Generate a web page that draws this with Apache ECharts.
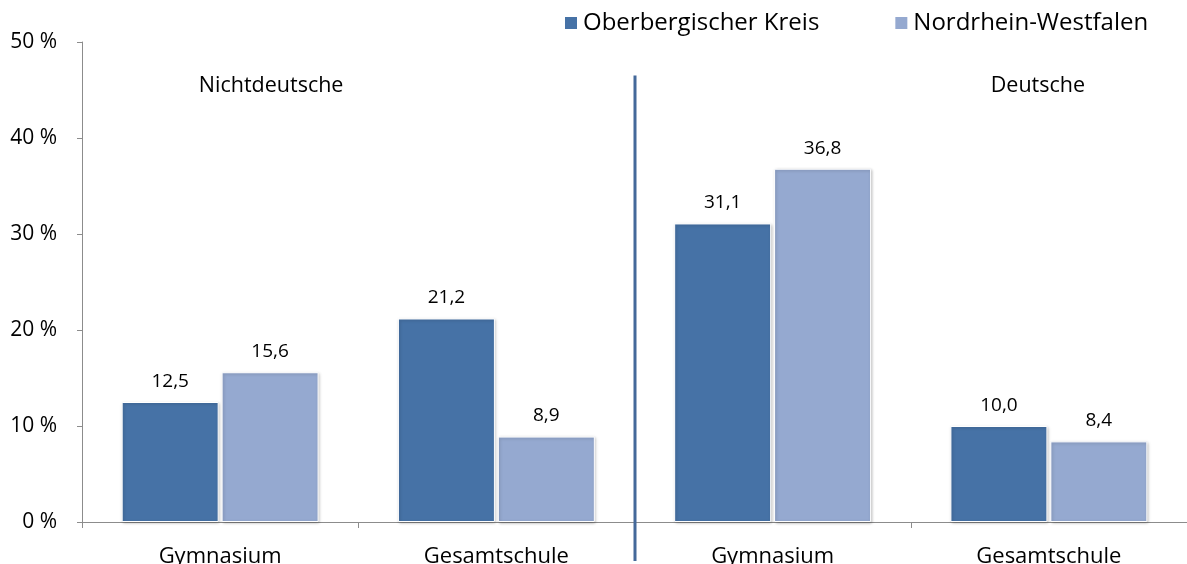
<!DOCTYPE html>
<html>
<head>
<meta charset="utf-8">
<script src="https://cdn.jsdelivr.net/npm/echarts@6/dist/echarts.min.js"></script>
<style>
html,body{margin:0;padding:0;background:#fff;}
#chart{width:1187px;height:564px;}
</style>
</head>
<body>
<div id="chart"></div>
<script>
const categories = ['Gymnasium', 'Gesamtschule', 'Gymnasium', 'Gesamtschule'];
const seriesNames = ['Oberbergischer Kreis', 'Nordrhein-Westfalen'];
const oberbergValues = [12.5, 21.2, 31.1, 10.0];
const nrwValues = [15.6, 8.9, 36.8, 8.4];
const groupLabels = ['Nichtdeutsche', 'Deutsche'];
const yTicks = { min: 0, max: 50, interval: 10 };

const FONT = '"Open Sans", sans-serif';
const chart = echarts.init(document.getElementById('chart'));

function fmt(v) { return v.toFixed(1).replace('.', ','); }

const barCommon = {
  type: 'bar',
  barWidth: 97,
  barGap: '3%',
  label: {
    show: true,
    position: 'top',
    distance: 11,
    color: '#000',
    fontFamily: FONT,
    fontSize: 19,
    formatter: p => fmt(p.value)
  }
};

chart.setOption({
  animation: false,
  textStyle: { fontFamily: FONT },
  grid: { left: 82, right: 0, top: 42, bottom: 42, containLabel: false, outerBoundsMode: 'none' },
  legend: {
    left: 558, top: 6,
    icon: 'rect', itemWidth: 14, itemHeight: 14, itemGap: 74, itemTextGap: 6,
    textStyle: { fontSize: 24, color: '#000', fontFamily: FONT },
    data: seriesNames
  },
  xAxis: {
    type: 'category',
    data: categories,
    axisLine: { lineStyle: { color: '#8c8c8c', width: 1 } },
    axisTick: { show: true, interval: 0, length: 6, lineStyle: { color: '#8c8c8c' } },
    axisLabel: { color: '#000', fontSize: 22, fontFamily: FONT, margin: 24, interval: 0 }
  },
  yAxis: {
    type: 'value',
    min: yTicks.min, max: yTicks.max, interval: yTicks.interval,
    axisLine: { show: true, lineStyle: { color: '#8c8c8c', width: 1 } },
    axisTick: { show: true, length: 5, lineStyle: { color: '#8c8c8c' } },
    splitLine: { show: false },
    axisLabel: { color: '#000', fontSize: 21, fontFamily: FONT, margin: 25, formatter: '{value} %' }
  },
  series: [
    Object.assign({}, barCommon, {
      name: seriesNames[0], data: oberbergValues,
      itemStyle: { color: '#4672A6', borderColor: '#ffffff', borderWidth: 1,
        shadowColor: 'rgba(0,0,0,0.25)', shadowBlur: 3, shadowOffsetX: 1, shadowOffsetY: 1 }
    }),
    Object.assign({}, barCommon, {
      name: seriesNames[1], data: nrwValues,
      itemStyle: { color: '#95A9D0', borderColor: '#ffffff', borderWidth: 1,
        shadowColor: 'rgba(0,0,0,0.25)', shadowBlur: 3, shadowOffsetX: 1, shadowOffsetY: 1 }
    })
  ]
});

// divider between the two groups and group labels
const c0 = chart.convertToPixel({ xAxisIndex: 0 }, 0);
const c1 = chart.convertToPixel({ xAxisIndex: 0 }, 1);
const c2 = chart.convertToPixel({ xAxisIndex: 0 }, 2);
const c3 = chart.convertToPixel({ xAxisIndex: 0 }, 3);
const midX = (c1 + c2) / 2 + 0.5;
const topY = chart.convertToPixel({ yAxisIndex: 0 }, 46.5);
const labelY = chart.convertToPixel({ yAxisIndex: 0 }, 45.4);

chart.setOption({
  graphic: [
    { type: 'line', shape: { x1: midX, y1: topY, x2: midX, y2: 561 },
      style: { stroke: '#44699A', lineWidth: 3 }, z: 10 },
    { type: 'text', x: c0 + 51, y: labelY,
      style: { text: groupLabels[0], fill: '#000', font: '21.5px ' + FONT, textAlign: 'center', textVerticalAlign: 'middle' } },
    { type: 'text', x: c3 - 11, y: labelY,
      style: { text: groupLabels[1], fill: '#000', font: '21.5px ' + FONT, textAlign: 'center', textVerticalAlign: 'middle' } }
  ]
});
</script>
</body>
</html>
